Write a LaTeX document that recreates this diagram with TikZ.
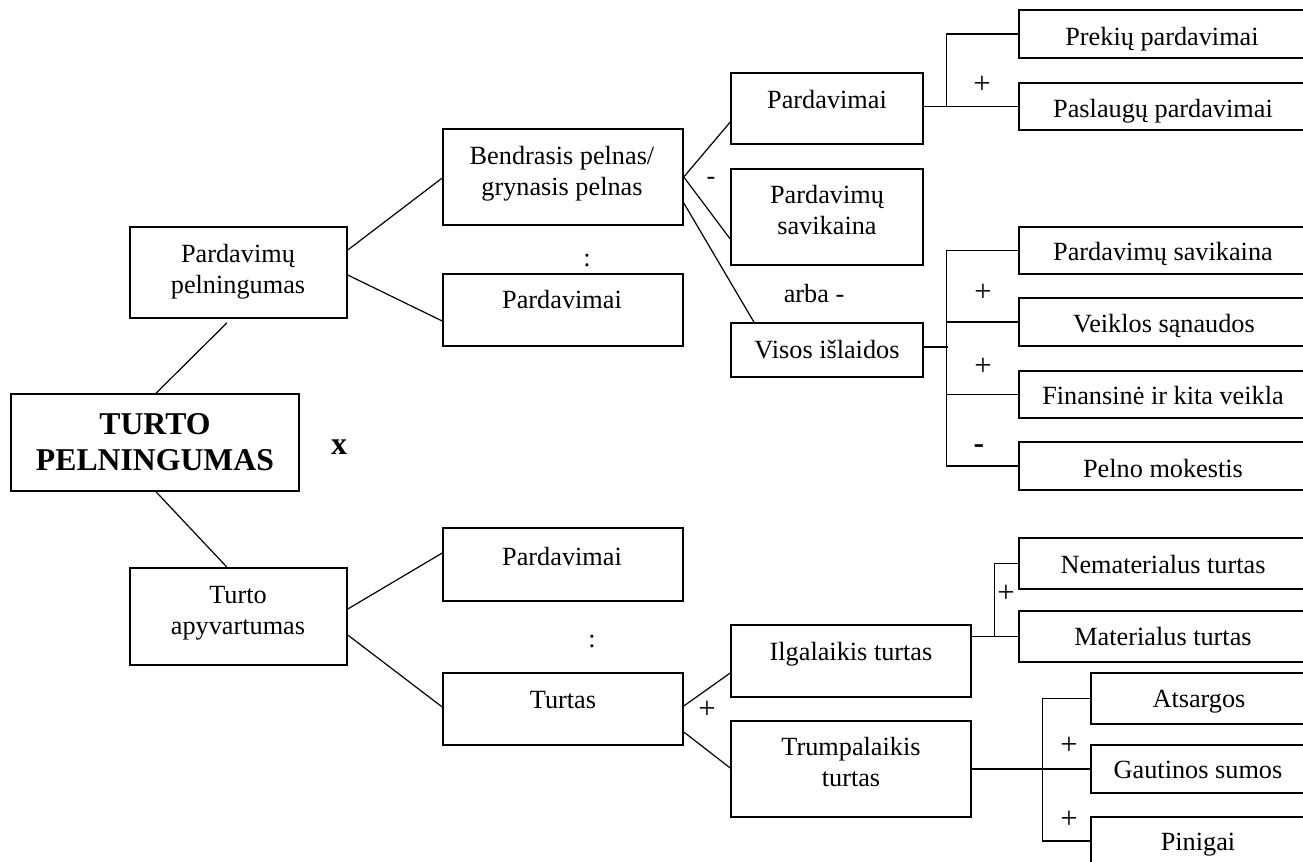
\documentclass[tikz,border=0pt]{standalone}
\usepackage{fontspec}
\setmainfont{Liberation Serif}
\usetikzlibrary{calc}
\newcommand{\ml}[1]{\begin{tabular}[t]{@{}c@{}}#1\end{tabular}}
\newcommand{\mybox}[5]{\node[box,minimum width={(#4-#2)*0.75pt},minimum height={(#5-#3)*0.75pt}] (#1) at ({(#2+#4)/2},{(#3+#5)/2}) {};}
\begin{document}
\begin{tikzpicture}[x=0.75pt,y=-0.75pt,
  box/.style={draw,line width=1.15pt,rectangle,inner sep=0pt},
  txt/.style={anchor=base,inner sep=0pt,font=\fontsize{19.7}{23.3}\selectfont},
  pm/.style={anchor=center,inner sep=0pt,font=\fontsize{23}{26}\selectfont},
  conn/.style={line width=0.9pt}]
\useasboundingbox (0,0) rectangle (1303,861);
\fill[white] (0,0) rectangle (1303,861);
\clip (0,0) rectangle (1303,861);
% boxes
\mybox{ppel}{130}{227}{347}{318}
\mybox{turto}{11}{394}{299}{491}
\mybox{tapy}{130}{568}{347}{665}
\mybox{bend}{443}{129}{683}{225}
\mybox{pardA}{443}{274}{683}{346}
\mybox{pardB}{443}{528}{683}{601}
\mybox{turtas}{443}{673}{683}{745}
\mybox{pardR}{731}{73}{923}{144}
\mybox{psav}{731}{169}{923}{265}
\mybox{visos}{731}{323}{923}{377}
\mybox{ilg}{731}{625}{971}{697}
\mybox{trump}{731}{721}{971}{817}
\mybox{prek}{1019}{10}{1320}{58}
\mybox{pasl}{1019}{83}{1320}{130}
\mybox{psavB}{1019}{227}{1320}{274}
\mybox{veik}{1019}{298}{1320}{346}
\mybox{fin}{1019}{371}{1320}{418}
\mybox{pelno}{1019}{442}{1320}{490}
\mybox{nemat}{1019}{538}{1320}{589}
\mybox{mat}{1019}{611}{1320}{662}
\mybox{ats}{1091}{673}{1320}{724}
\mybox{gaut}{1091}{745}{1320}{793}
\mybox{pin}{1091}{817}{1320}{865}
% texts
\node[txt] (tppel) at (238,262) {\ml{Pardavimų\\pelningumas}};
\node[txt,font=\bfseries\fontsize{23.8}{27}\selectfont] (tturto) at (155,434) {\ml{TURTO\\PELNINGUMAS}};
\node[txt,font=\bfseries\fontsize{24}{27}\selectfont] (tx) at (339,454) {x};
\node[txt] (ttapy) at (238,603) {\ml{Turto\\apyvartumas}};
\node[txt] (tbend) at (562,164) {\ml{Bendrasis pelnas/\\grynasis pelnas}};
\node[txt] (tpardA) at (562,308) {Pardavimai};
\node[txt] (tcolA) at (587,266) {:};
\node[txt] (tpardB) at (562,565) {Pardavimai};
\node[txt] (tcolB) at (592,647) {:};
\node[txt] (tturtas) at (563,708) {Turtas};
\node[txt] (tpardR) at (827,108) {Pardavimai};
\node[txt] (tpsav) at (827,203) {\ml{Pardavimų\\savikaina}};
\node[txt] (tvisos) at (827,358) {Visos išlaidos};
\node[txt] (tarba) at (814,302) {arba -};
\node[txt] (tminA) at (711,184) {-};
\node[txt] (tilg) at (851,660) {Ilgalaikis turtas};
\node[txt] (ttrump) at (851,755) {\ml{Trumpalaikis\\turtas}};
\node[txt] (tprek) at (1162,45) {Prekių pardavimai};
\node[txt] (tpasl) at (1163,117) {Paslaugų pardavimai};
\node[txt] (tpsavB) at (1163,260) {Pardavimų savikaina};
\node[txt] (tveik) at (1164,332) {Veiklos sąnaudos};
\node[txt] (tfin) at (1163,404) {Finansinė ir kita veikla};
\node[txt] (tpelno) at (1163,477) {Pelno mokestis};
\node[txt] (tnemat) at (1163,573) {Nematerialus turtas};
\node[txt] (tmat) at (1163,645) {Materialus turtas};
\node[txt] (tats) at (1199,707) {Atsargos};
\node[txt] (tgaut) at (1198,778) {Gautinos sumos};
\node[txt] (tpin) at (1198,850) {Pinigai};
\node[txt,font=\bfseries\fontsize{23.8}{27}\selectfont] (tminB) at (979,453) {-};
% plus signs
\node[pm] (p1) at (982,85) {+};
\node[pm] (p2) at (983,293) {+};
\node[pm] (p3) at (983,367) {+};
\node[pm] (p4) at (707,710) {+};
\node[pm] (p5) at (1006,594) {+};
\node[pm] (p6) at (1069,746) {+};
\node[pm] (p7) at (1069,820) {+};
% connectors
\draw[conn] ($(ppel.south)+(-11.5,4)$) -- ($(turto.north)+(1,0)$);
\draw[conn] ($(turto.south)+(1,0)$) -- ($(tapy.north)+(-11.5,0)$);
\draw[conn] ($(ppel.east)+(0,-22.5)$) -- ($(bend.west)+(0,1)$);
\draw[conn] ($(ppel.east)+(0,2.5)$) -- ($(pardA.west)+(0,11)$);
\draw[conn] (bend.east) -- ($(pardR.west)+(0,13.5)$);
\draw[conn] (bend.east) -- ($(psav.west)+(0,22)$);
\draw[conn] ($(bend.east)+(0,26)$) -- ($(visos.north)+(-73,0)$);
\draw[conn] (prek.west) -- ++(-72,0) |- (pasl.west);
\draw[conn] (pardR.east |- pasl.west) -- (pasl.west);
\draw[conn] (psavB.west) -- ++(-72,0) |- (pelno.west);
\draw[conn] (veik.west) -- ++(-72,0);
\draw[conn] (fin.west) -- ++(-72,0);
\draw[conn] ($(visos.east)+(0,-3)$) -- ++(24,0);
\draw[conn] ($(tapy.east)+(0,-7.5)$) -- ($(pardB.west)+(0,-11.5)$);
\draw[conn] ($(tapy.east)+(0,18.5)$) -- ($(turtas.west)+(0,-2)$);
\draw[conn] ($(turtas.east)+(0,-3)$) -- ($(ilg.west)+(0,12)$);
\draw[conn] ($(turtas.east)+(0,23)$) -- ($(trump.west)+(0,-1)$);
\draw[conn] (nemat.west) -- ++(-24,0) |- (mat.west);
\draw[conn] (mat.west -| ilg.east) -- (mat.west);
\draw[conn] (ats.west) -- ++(-48,0) |- (pin.west);
\draw[conn] (trump.east) -- (gaut.west);
\end{tikzpicture}
\end{document}
